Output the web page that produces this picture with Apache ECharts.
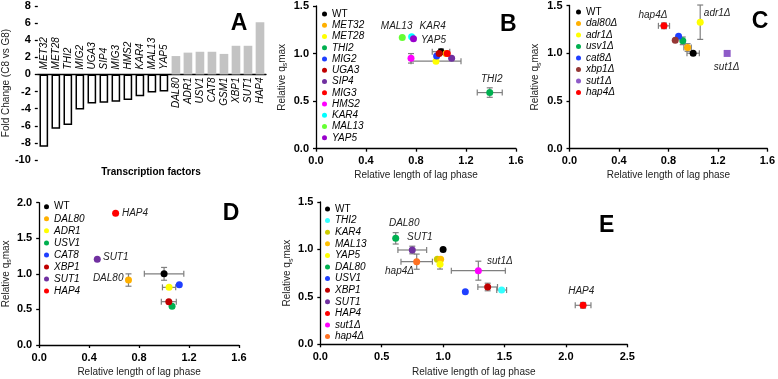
<!DOCTYPE html>
<html>
<head>
<meta charset="utf-8">
<script src="https://cdn.jsdelivr.net/npm/echarts@6/dist/echarts.min.js"></script>
<style>
  html, body { margin: 0; padding: 0; background: #fff; }
  #chart { width: 778px; height: 379px; }
</style>
</head>
<body>
<div id="chart"></div>
<script>
// A: fold change of transcription factors (C8 vs G8)
var tfNames = ['MET32', 'MET28', 'THI2', 'MIG2', 'UGA3', 'SIP4', 'MIG3', 'HMS2', 'KAR4', 'MAL13', 'YAP5',
  'DAL80', 'ADR1', 'USV1', 'CAT8', 'GSM1', 'XBP1', 'SUT1', 'HAP4'];
var foldChange = [-8.45, -6.35, -5.9, -4.1, -3.4, -3.3, -3.2, -3.0, -2.55, -2.1, -2.0,
  2.15, 2.55, 2.65, 2.65, 2.4, 3.35, 3.35, 6.1];

// B
var bNames = ['WT', 'MET32', 'MET28', 'THI2', 'MIG2', 'UGA3', 'SIP4', 'MIG3', 'HMS2', 'KAR4', 'MAL13', 'YAP5'];
var bLag = [1.0, 1.04, 0.96, 1.39, 0.965, 0.985, 1.085, 1.05, 0.76, 0.765, 0.69, 0.78];
var bQs = [1.02, 1.0, 0.92, 0.59, 0.975, 1.0, 0.95, 1.0, 0.95, 1.178, 1.17, 1.155];
var bLagErr = [0.07, 0, 0.2, 0.1, 0, 0, 0, 0, 0, 0, 0, 0];
var bQsErr = [0.03, 0, 0, 0.05, 0, 0, 0, 0, 0.05, 0, 0, 0];
var bColors = ['#000000', '#ffb000', '#ffff00', '#00b050', '#1f3fff', '#c00000', '#7030a0', '#ff0000',
  '#ff00ff', '#00ffff', '#66ff33', '#9900cc'];

// C
var cNames = ['WT', 'dal80Δ', 'adr1Δ', 'usv1Δ', 'cat8Δ', 'xbp1Δ', 'sut1Δ', 'hap4Δ'];
var cLag = [1.0, 0.955, 1.057, 0.916, 0.882, 0.855, 1.275, 0.764];
var cQs = [1.0, 1.06, 1.325, 1.13, 1.179, 1.137, 0.998, 1.287];
var cLagErr = [0.05, 0.03, 0, 0, 0, 0, 0, 0.045];
var cQsErr = [0, 0.04, 0.18, 0.04, 0, 0, 0, 0.03];
var cColors = ['#000000', '#ffb000', '#ffff00', '#00b050', '#1f3fff', '#953735', '#8e5bc8', '#ff0000'];

// D
var dNames = ['WT', 'DAL80', 'ADR1', 'USV1', 'CAT8', 'XBP1', 'SUT1', 'HAP4'];
var dLag = [1.0, 0.715, 1.04, 1.064, 1.122, 1.038, 0.465, 0.612];
var dQs = [1.0, 0.913, 0.81, 0.544, 0.848, 0.609, 1.204, 1.85];
var dLagErr = [0.158, 0, 0.053, 0, 0, 0.06, 0, 0];
var dQsErr = [0.09, 0.087, 0, 0, 0, 0, 0, 0];
var dColors = ['#000000', '#ffb000', '#ffff00', '#00b050', '#1f3fff', '#c00000', '#7030a0', '#ff0000'];

// E
var eNames = ['WT', 'THI2', 'KAR4', 'MAL13', 'YAP5', 'DAL80', 'USV1', 'XBP1', 'SUT1', 'HAP4', 'sut1Δ', 'hap4Δ'];
var eLag = [1.0, 1.477, 0.953, 0.98, 0.975, 0.614, 1.181, 1.363, 0.749, 2.14, 1.287, 0.785];
var eQs = [1.0, 0.572, 0.896, 0.896, 0.843, 1.117, 0.554, 0.604, 0.994, 0.411, 0.776, 0.871];
var eLagErr = [0, 0.04, 0, 0, 0, 0, 0, 0.08, 0.117, 0.064, 0.22, 0.128];
var eQsErr = [0, 0, 0, 0, 0.05, 0.06, 0, 0.04, 0.04, 0.03, 0.1, 0.08];
var eColors = ['#000000', '#33ffff', '#cccc00', '#ffc000', '#ffff00', '#00b050', '#1f3fff', '#c00000',
  '#7030a0', '#ff0000', '#ff00ff', '#ff7020'];

var FONT = '"Liberation Sans", Arial, sans-serif';
var QS_NAME = 'Relative q{s|s}max';
var LAG_NAME = 'Relative length of lag phase';

var chart = echarts.init(document.getElementById('chart'), null, {renderer: 'canvas'});

var axisLine = {lineStyle: {color: '#000', width: 1.3}};
var axisTick = {show: true, length: 3, lineStyle: {color: '#000', width: 1.3}};

function valueAxis(gi, min, max, step, name, gap, rotate) {
  return {
    type: 'value', gridIndex: gi, min: min, max: max, interval: step,
    name: name, nameLocation: 'middle', nameGap: gap, nameRotate: rotate,
    nameTextStyle: {fontFamily: FONT, fontSize: 10, color: '#222',
      rich: {s: {fontFamily: FONT, fontSize: 7, color: '#222', verticalAlign: 'bottom', lineHeight: 14}}},
    axisLine: axisLine, axisTick: axisTick, splitLine: {show: false},
    axisLabel: {
      color: '#000', fontFamily: FONT, fontSize: 11, fontWeight: 'bold', margin: 7,
      formatter: function (v) { return step >= 1 ? String(v) : v.toFixed(1); }
    }
  };
}

// 误差线
function errorBars(params, api) {
  var x = api.value(0), y = api.value(1), ex = api.value(2), ey = api.value(3);
  var c = api.coord([x, y]);
  var cap = 3;
  var kids = [];
  function ln(x1, y1, x2, y2) {
    kids.push({type: 'line', shape: {x1: x1, y1: y1, x2: x2, y2: y2},
      style: {stroke: '#7f7f7f', lineWidth: 1.2}});
  }
  if (ex > 0) {
    var l = api.coord([x - ex, y])[0], r = api.coord([x + ex, y])[0];
    ln(l, c[1], r, c[1]);
    ln(l, c[1] - cap, l, c[1] + cap);
    ln(r, c[1] - cap, r, c[1] + cap);
  }
  if (ey > 0) {
    var t = api.coord([x, y + ey])[1], b = api.coord([x, y - ey])[1];
    ln(c[0], t, c[0], b);
    ln(c[0] - cap, t, c[0] + cap, t);
    ln(c[0] - cap, b, c[0] + cap, b);
  }
  return {type: 'group', children: kids};
}

// 每个面板的点 + 标注
function panel(prefix, gi, names, xs, ys, xe, ye, colors, notes, symbols) {
  var list = [{
    type: 'custom', xAxisIndex: gi, yAxisIndex: gi, z: 2, silent: true,
    renderItem: errorBars, clip: false,
    encode: {x: 0, y: 1},
    data: names.map(function (n, i) { return [xs[i], ys[i], xe[i], ye[i]]; })
  }];
  names.forEach(function (n, i) {
    var note = notes[n];
    list.push({
      type: 'scatter', name: prefix + n, xAxisIndex: gi, yAxisIndex: gi, z: 3,
      symbol: (symbols && symbols[n]) || 'circle', symbolSize: 7,
      itemStyle: {color: colors[i], opacity: 1},
      label: note ? {
        show: true, position: 'inside', offset: note,
        formatter: n, color: '#222', fontFamily: FONT, fontSize: 10, fontStyle: 'italic'
      } : {show: false},
      data: [[xs[i], ys[i]]]
    });
  });
  return list;
}

function legendFor(prefix, names, left, top, lh) {
  return {
    orient: 'vertical', left: left, top: top, padding: 0, itemGap: 0,
    itemWidth: 5, itemHeight: 5, icon: 'circle', selectedMode: false,
    data: names.map(function (n) { return prefix + n; }),
    formatter: function (name) {
      var n = name.split('|')[1];
      return n === 'WT' ? n : '{i|' + n + '}';
    },
    textStyle: {fontFamily: FONT, fontSize: 10, color: '#000', lineHeight: lh,
      rich: {i: {fontFamily: FONT, fontSize: 10, fontStyle: 'italic', color: '#000', lineHeight: lh}}}
  };
}

var barData = foldChange.map(function (v) {
  var neg = v < 0;
  return {
    value: v,
    itemStyle: neg ? {color: '#fff', borderColor: '#000', borderWidth: 1.5} : {color: '#c3c3c3'},
    label: {
      show: true, rotate: 90, position: neg ? 'top' : 'bottom', distance: neg ? 5 : 3,
      align: neg ? 'left' : 'right', verticalAlign: 'middle'
    }
  };
});

var series = [{
  type: 'bar', xAxisIndex: 0, yAxisIndex: 0, barWidth: '72%',
  label: {formatter: '{b}', color: '#000', fontFamily: FONT, fontSize: 10, fontStyle: 'italic'},
  data: barData
}];

series = series.concat(
  panel('B|', 1, bNames, bLag, bQs, bLagErr, bQsErr, bColors,
    {MAL13: [-5.6, -10.7], KAR4: [21, -10], YAP5: [20, 1.7], THI2: [2, -13]}),
  panel('C|', 2, cNames, cLag, cQs, cLagErr, cQsErr, cColors,
    {'hap4Δ': [-11, -10.7], 'adr1Δ': [17, -8.7], 'sut1Δ': [-0.5, 13.4]}, {'sut1Δ': 'rect'}),
  panel('D|', 3, dNames, dLag, dQs, dLagErr, dQsErr, dColors,
    {HAP4: [19.4, 0], SUT1: [18.5, -2.6], DAL80: [-20.3, -2.3]}),
  panel('E|', 4, eNames, eLag, eQs, eLagErr, eQsErr, eColors,
    {DAL80: [8.5, -15], SUT1: [7.5, -12.3], 'hap4Δ': [-17.2, 10], 'sut1Δ': [21.5, -9.7], HAP4: [-1.8, -13.6]})
);

function letter(t, x, y) {
  return {type: 'text', x: x, y: y, style: {text: t, fontFamily: FONT, fontSize: 23, fontWeight: 'bold',
    fill: '#000', align: 'center', verticalAlign: 'middle'}};
}

chart.setOption({
  animation: false,
  backgroundColor: '#fff',
  grid: [
    {left: 32, top: 6, width: 234, height: 154},
    {left: 316, top: 6, width: 200, height: 142.7},
    {left: 569.5, top: 5.3, width: 203.5, height: 143.4},
    {left: 37, top: 202.7, width: 202, height: 142.3},
    {left: 320.3, top: 202, width: 307, height: 142.3}
  ],
  xAxis: [
    {type: 'category', gridIndex: 0, data: tfNames,
      axisLine: {onZero: true, lineStyle: {color: '#000', width: 1.3}},
      axisTick: {show: false}, axisLabel: {show: false}},
    valueAxis(1, 0, 1.6, 0.4, LAG_NAME, 22, 0),
    valueAxis(2, 0, 1.6, 0.4, LAG_NAME, 22, 0),
    valueAxis(3, 0, 1.6, 0.4, LAG_NAME, 22, 0),
    valueAxis(4, 0, 2.5, 0.5, LAG_NAME, 23, 0)
  ],
  yAxis: [
    valueAxis(0, -10, 8, 2, 'Fold Change (C8 vs G8)', 21, 90),
    valueAxis(1, 0, 1.5, 0.5, QS_NAME, 27, 90),
    valueAxis(2, 0, 1.5, 0.5, QS_NAME, 27, 90),
    valueAxis(3, 0, 2, 0.5, QS_NAME, 26, 90),
    valueAxis(4, 0, 1.5, 0.5, QS_NAME, 26, 90)
  ],
  legend: [
    legendFor('B|', bNames, 322, 8.4, 11.25),
    legendFor('C|', cNames, 576, 6.2, 11.5),
    legendFor('D|', dNames, 44, 200.7, 12.05),
    legendFor('E|', eNames, 325, 203.2, 11.6)
  ],
  graphic: [
    letter('A', 239, 23.3),
    letter('B', 508.3, 25),
    letter('C', 760, 21.7),
    letter('D', 231, 213.3),
    letter('E', 606.7, 226),
    {type: 'text', x: 151, y: 172.7, style: {text: 'Transcription factors', fontFamily: FONT, fontSize: 10,
      fontWeight: 'bold', fill: '#000', align: 'center', verticalAlign: 'middle'}}
  ],
  series: series
});
</script>
</body>
</html>
